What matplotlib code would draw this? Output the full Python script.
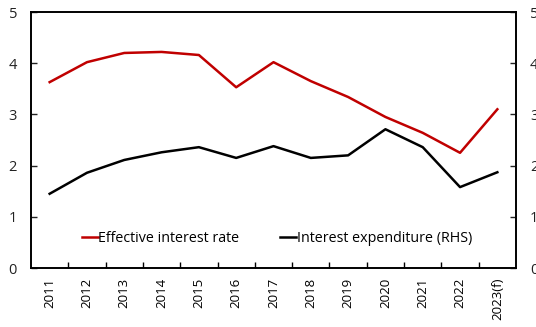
import matplotlib
matplotlib.use("Agg")
import matplotlib.pyplot as plt
from matplotlib.ticker import FixedLocator

plt.rcParams['font.family'] = ['Open Sans', 'DejaVu Sans']

years = ["2011", "2012", "2013", "2014", "2015", "2016", "2017", "2018",
         "2019", "2020", "2021", "2022", "2023(f)"]
effective_rate = [3.63, 4.02, 4.20, 4.22, 4.16, 3.53, 4.02, 3.65, 3.34, 2.95, 2.64, 2.25, 3.10]
interest_exp = [1.45, 1.86, 2.11, 2.26, 2.36, 2.15, 2.38, 2.15, 2.20, 2.71, 2.36, 1.58, 1.87]
yticks = [0, 1, 2, 3, 4, 5]

fig = plt.figure(figsize=(5.36, 3.27), dpi=100)
ax = fig.add_axes([31/536, 1 - 268/327, (516-31)/536, (268-12)/327])
ax2 = ax.twinx()

x = list(range(len(years)))
l1, = ax.plot(x, effective_rate, color="#C00000", lw=1.8, label="Effective interest rate")
l2, = ax2.plot(x, interest_exp, color="black", lw=1.8, label="Interest expenditure (RHS)")

for a in (ax, ax2):
    a.set_ylim(0, 5)
    a.set_yticks(yticks)
    a.set_xlim(-0.5, len(years) - 0.5)
    for s in a.spines.values():
        s.set_linewidth(1.2)
        s.set_color("black")

ax.tick_params(axis="y", direction="in", length=4, width=1, labelsize=10.5, pad=10, colors="#222222")
ax2.tick_params(axis="y", direction="in", length=4, width=1, labelsize=10.5, pad=10, colors="#222222")

ax.set_xticks(x)
ax.set_xticklabels(years, rotation=90, fontsize=9.5)
ax.tick_params(axis="x", which="major", length=0, pad=7)
ax.xaxis.set_minor_locator(FixedLocator([i + 0.5 for i in range(len(years) - 1)]))
ax.tick_params(axis="x", which="minor", direction="in", length=4, width=1)

ax.legend(handles=[l1, l2], loc="center", bbox_to_anchor=(0.507, 0.115), ncol=2,
          frameon=False, fontsize=10.3, handlelength=1.1, handletextpad=0.05,
          columnspacing=2.85)

fig.savefig("out.png", dpi=100)
